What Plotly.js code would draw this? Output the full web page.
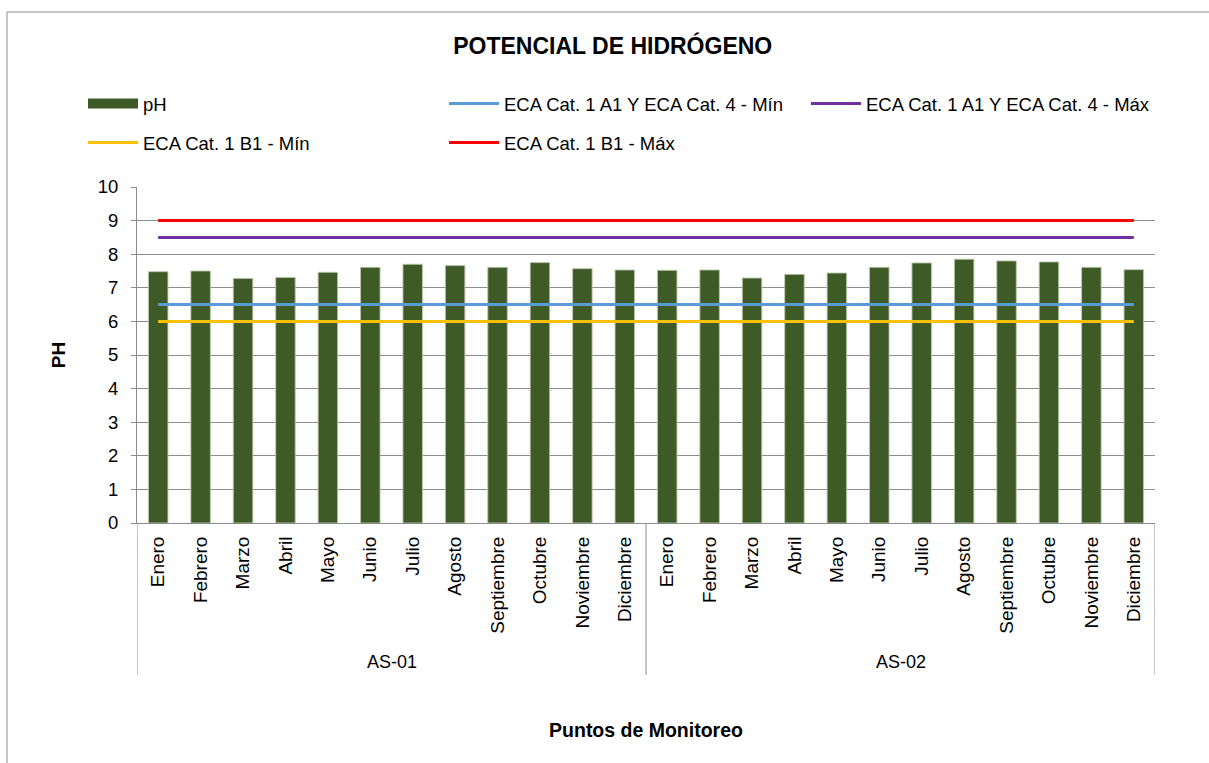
<!DOCTYPE html>
<html>
<head>
<meta charset="utf-8">
<script src="https://cdn.plot.ly/plotly-3.0.1.min.js"></script>
<style>
  html, body { margin: 0; padding: 0; background: #ffffff; }
  #chart { width: 1209px; height: 763px; }
</style>
</head>
<body>
<div id="chart"></div>
<script>
// ---- Data ----
const groups = ["AS-01", "AS-02"];
const months = ["Enero", "Febrero", "Marzo", "Abril", "Mayo", "Junio", "Julio",
                "Agosto", "Septiembre", "Octubre", "Noviembre", "Diciembre"];
const phAS01 = [7.48, 7.50, 7.28, 7.31, 7.46, 7.61, 7.70, 7.66, 7.61, 7.75, 7.57, 7.53];
const phAS02 = [7.52, 7.53, 7.29, 7.40, 7.44, 7.61, 7.74, 7.85, 7.80, 7.77, 7.61, 7.54];
const ecaA1Min = [6.5, 6.5, 6.5, 6.5, 6.5, 6.5, 6.5, 6.5, 6.5, 6.5, 6.5, 6.5,
                  6.5, 6.5, 6.5, 6.5, 6.5, 6.5, 6.5, 6.5, 6.5, 6.5, 6.5, 6.5];
const ecaA1Max = [8.5, 8.5, 8.5, 8.5, 8.5, 8.5, 8.5, 8.5, 8.5, 8.5, 8.5, 8.5,
                  8.5, 8.5, 8.5, 8.5, 8.5, 8.5, 8.5, 8.5, 8.5, 8.5, 8.5, 8.5];
const ecaB1Min = [6, 6, 6, 6, 6, 6, 6, 6, 6, 6, 6, 6,
                  6, 6, 6, 6, 6, 6, 6, 6, 6, 6, 6, 6];
const ecaB1Max = [9, 9, 9, 9, 9, 9, 9, 9, 9, 9, 9, 9,
                  9, 9, 9, 9, 9, 9, 9, 9, 9, 9, 9, 9];
const seriesNames = ["pH", "ECA Cat. 1 A1 Y ECA Cat. 4 - Mín", "ECA Cat. 1 A1 Y ECA Cat. 4 - Máx",
                     "ECA Cat. 1 B1 - Mín", "ECA Cat. 1 B1 - Máx"];

// ---- Derived category positions ----
const phAll = phAS01.concat(phAS02);
const tickText = [];
groups.forEach(() => months.forEach(m => tickText.push(m)));
const xIdx = tickText.map((_, i) => i);
const nCat = xIdx.length;
const nPerGroup = months.length;

const FONT = "Liberation Sans, Arial, sans-serif";
const GRID = "#8c8c8c";

const lineTrace = (y, name, color, legendId) => ({
  type: "scatter", mode: "lines", x: xIdx, y: y, name: name,
  line: { color: color, width: 3 }, legend: legendId, hoverinfo: "y"
});

const traces = [
  {
    type: "bar", x: xIdx, y: phAll, name: seriesNames[0], showlegend: false,
    width: 0.46,
    marker: { color: "#3d5a27", line: { color: "rgba(185,200,170,0.9)", width: 1 } }
  },
  // legend proxy for the bar series (wide swatch, as in the reference)
  {
    type: "scatter", mode: "lines", x: [null], y: [null], name: seriesNames[0],
    line: { color: "#3d5a27", width: 12 }, legend: "legend", hoverinfo: "skip"
  },
  lineTrace(ecaA1Min, seriesNames[1], "#5b9bd5", "legend2"),
  lineTrace(ecaA1Max, seriesNames[2], "#7030a0", "legend3"),
  lineTrace(ecaB1Min, seriesNames[3], "#ffc000", "legend4"),
  lineTrace(ecaB1Max, seriesNames[4], "#ff0000", "legend5")
];

// plot area: x 137..1155, y 187..523
const L = 137, R = 1155, T = 187, B = 523, W = 1209, H = 763;
const px = v => (v - L) / (R - L);
const py = v => (B - v) / (B - T);

const legendBase = (x, y) => ({
  x: px(x), y: py(y), xanchor: "left", yanchor: "middle",
  orientation: "h", itemwidth: 50, bgcolor: "rgba(0,0,0,0)",
  font: { family: FONT, size: 18.5, color: "#000" }, itemclick: false, itemdoubleclick: false
});

const shapes = [
  // outer chart frame
  { type: "rect", xref: "paper", yref: "paper", x0: px(7), x1: px(1225), y0: py(780), y1: py(12),
    line: { color: GRID, width: 1 }, fillcolor: "rgba(0,0,0,0)", layer: "below" }
];
// group dividers on the category axis
[0, nPerGroup, nCat].forEach(k => {
  shapes.push({ type: "line", xref: "x", yref: "paper", x0: k - 0.5, x1: k - 0.5,
    y0: 0, y1: py(675), line: { color: GRID, width: 1 } });
});

const annotations = groups.map((g, gi) => ({
  text: g, xref: "x", yref: "paper",
  x: gi * nPerGroup + (nPerGroup - 1) / 2, y: py(662),
  showarrow: false, xanchor: "center", yanchor: "middle",
  font: { family: FONT, size: 18, color: "#000" }
}));

const layout = {
  width: W, height: H,
  margin: { l: L, r: W - R, t: T, b: H - B, pad: 0 },
  paper_bgcolor: "#ffffff", plot_bgcolor: "#ffffff",
  font: { family: FONT, color: "#000" },
  title: {
    text: "<b>POTENCIAL DE HIDRÓGENO</b>",
    xref: "container", yref: "container", x: 612.7 / W, y: 1 - 46 / H,
    xanchor: "center", yanchor: "middle",
    font: { family: FONT, size: 23, color: "#000" }
  },
  bargap: 0.54,
  xaxis: {
    range: [-0.5, nCat - 0.5], tickmode: "array", tickvals: xIdx, ticktext: tickText,
    tickangle: -90, ticks: "", ticklabelstandoff: 5,
    tickfont: { family: FONT, size: 19, color: "#000" },
    showgrid: false, zeroline: false, showline: true, linecolor: GRID, linewidth: 1,
    automargin: false, fixedrange: true,
    title: { text: "<b>Puntos de Monitoreo</b>", standoff: 90,
             font: { family: FONT, size: 19.5, color: "#000" } }
  },
  yaxis: {
    range: [0, 10], dtick: 1, tick0: 0, ticks: "outside", ticklen: 5, tickcolor: GRID,
    ticklabelstandoff: 9,
    tickfont: { family: FONT, size: 18.5, color: "#000" },
    showgrid: true, gridcolor: GRID, gridwidth: 1, zeroline: false,
    showline: true, linecolor: GRID, linewidth: 1, automargin: false, fixedrange: true,
    title: { text: "<b>PH</b>", standoff: 27, font: { family: FONT, size: 19, color: "#000" } }
  },
  legend: legendBase(83, 104),
  legend2: legendBase(444, 104),
  legend3: legendBase(806, 104),
  legend4: legendBase(83, 143),
  legend5: legendBase(444, 143),
  shapes: shapes,
  annotations: annotations,
  showlegend: true
};

Plotly.newPlot("chart", traces, layout, { displayModeBar: false, staticPlot: true });
</script>
</body>
</html>
